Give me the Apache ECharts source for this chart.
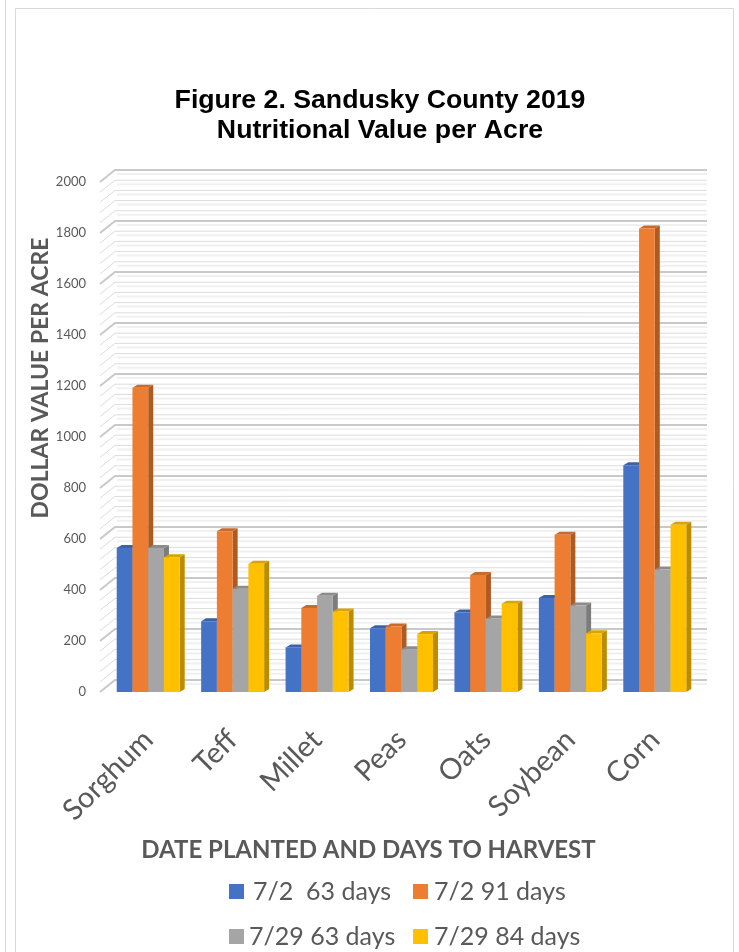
<!DOCTYPE html>
<html>
<head>
<meta charset="utf-8">
<script src="https://cdn.jsdelivr.net/npm/echarts@6/dist/echarts.min.js"></script>
<style>
html,body{margin:0;padding:0;background:#fff;}
#chart{width:739px;height:952px;}
</style>
</head>
<body>
<div id="chart"></div>
<script>
var categories = ['Sorghum', 'Teff', 'Millet', 'Peas', 'Oats', 'Soybean', 'Corn'];
var seriesNames = ['7/2  63 days', '7/2 91 days', '7/29 63 days', '7/29 84 days'];
var s72_63 = [565, 277, 175, 250, 312, 369, 889];
var s72_91 = [1193, 630, 329, 257, 459, 617, 1818];
var s729_63 = [565, 405, 377, 168, 288, 339, 480];
var s729_84 = [528, 503, 316, 227, 346, 230, 656];
var yTicks = [0, 200, 400, 600, 800, 1000, 1200, 1400, 1600, 1800, 2000];

var frontColors = ['#4472C4', '#ED7D31', '#A5A5A5', '#FFC000'];
var sideColors = ['#2F528F', '#AE5A21', '#7C7C7C', '#BC8C00'];
var topColors = ['#3A62A8', '#C9692A', '#8C8C8C', '#D9A300'];
var allSeries = [s72_63, s72_91, s729_63, s729_84];

var chart = echarts.init(document.getElementById('chart'), null, {renderer: 'canvas'});

var DX = 5, DY = 3;
function make3DRender(si) {
  return function (params, api) {
    var cat = api.value(0);
    var val = api.value(1);
    var top = api.coord([cat, val]);
    var base = api.coord([cat, 0]);
    var band = api.size([1, 0])[0];
    var bw = band * 0.746 / 4;
    var x = top[0] - 2 * bw + si * bw;
    var yT = top[1], yB = base[1];
    return {
      type: 'group',
      children: [
        {type: 'polygon', shape: {points: [[x + bw, yT], [x + bw + DX, yT - DY], [x + bw + DX, yB - DY], [x + bw, yB]]},
          style: {fill: sideColors[si]}},
        {type: 'polygon', shape: {points: [[x, yT], [x + DX, yT - DY], [x + bw + DX, yT - DY], [x + bw, yT]]},
          style: {fill: topColors[si]}},
        {type: 'rect', shape: {x: x, y: yT, width: bw, height: yB - yT},
          style: {fill: frontColors[si]}}
      ]
    };
  };
}

// 3D side wall and back wall grid lines
var WX = 15, WY = 12;
function wallRender(params, api) {
  var v = api.value(0);
  var p = api.coord([0, v]);
  var pr = api.coord([categories.length - 1, v]);
  var band = api.size([1, 0])[0];
  var x0 = p[0] - band / 2 - 6;
  var x1 = pr[0] + band / 2 + 10;
  var major = v % 200 === 0;
  var col = major ? '#C9C9C9' : '#DCDCDC';
  var lw = major ? 2 : 1;
  return {
    type: 'group',
    children: [
      {type: 'polyline', shape: {points: [[x0, p[1]], [x0 + WX, p[1] - WY], [x1, p[1] - WY]]},
        style: {stroke: col, lineWidth: lw, fill: null}},
      {type: 'line', shape: {x1: x0 + WX + 2, y1: p[1] - WY + 4, x2: x1, y2: p[1] - WY + 4},
        style: {stroke: '#F0F0F0', lineWidth: 2}}
    ]
  };
}
var wallValues = [];
for (var k = 0; k < yTicks.length - 1; k++) {
  for (var m = 0; m < 5; m++) wallValues.push([yTicks[k] + m * 40]);
}
wallValues.push([yTicks[yTicks.length - 1]]);

var series = [{
  type: 'custom',
  name: 'wall',
  renderItem: wallRender,
  data: wallValues,
  encode: {y: 0},
  silent: true,
  z: 1
}];
allSeries.forEach(function (arr, si) {
  series.push({
    type: 'custom',
    name: seriesNames[si],
    renderItem: make3DRender(si),
    itemStyle: {color: frontColors[si]},
    data: arr.map(function (v, j) { return [j, v]; }),
    encode: {x: 0, y: 1},
    z: 2 + si
  });
});

function legendItem(i, left, top, padLeft) {
  return {
    data: [seriesNames[i]],
    left: left, top: top, itemWidth: 15, itemHeight: 15, icon: 'rect',
    textStyle: {fontFamily: 'Lato', fontSize: 25, color: '#595959', padding: [0, 0, 0, padLeft]}
  };
}

var option = {
  backgroundColor: '#fff',
  animation: false,
  graphic: [
    {type: 'line', shape: {x1: 5.5, y1: 0, x2: 5.5, y2: 952}, style: {stroke: '#D9D9D9', lineWidth: 1}},
    {type: 'rect', shape: {x: 15.5, y: 8.5, width: 718, height: 960}, style: {fill: 'none', stroke: '#D9D9D9', lineWidth: 1}}
  ],
  title: {
    text: 'Figure 2. Sandusky County 2019\nNutritional Value per Acre',
    left: 380, top: 86, textAlign: 'center', padding: 0,
    textStyle: {fontFamily: 'Liberation Sans', fontWeight: 'bold', fontSize: 26.7, color: '#000', lineHeight: 30}
  },
  legend: [
    legendItem(0, 224, 874, 4),
    legendItem(1, 408, 874, 1),
    legendItem(2, 224, 919, 0),
    legendItem(3, 408, 919, 1)
  ],
  grid: {left: 106, right: 42, top: 182, bottom: 260, containLabel: false},
  xAxis: {
    type: 'category',
    data: categories,
    axisTick: {show: false},
    axisLine: {show: false},
    axisLabel: {rotate: 45, margin: 43, fontFamily: 'Lato', fontSize: 29, color: '#595959', interval: 0},
    name: 'DATE PLANTED AND DAYS TO HARVEST',
    nameLocation: 'middle', nameGap: 146, nameMoveOverlap: false,
    nameTextStyle: {fontFamily: 'Lato', fontWeight: 'bold', fontSize: 24, color: '#595959', padding: [0, 66, 0, 0]}
  },
  yAxis: {
    type: 'value', min: 0, max: 2000, interval: 200,
    axisLine: {show: false}, axisTick: {show: false},
    axisLabel: {margin: 20, fontFamily: 'Lato', fontSize: 13, color: '#595959',
      formatter: function (v) { return String(v); }},
    splitLine: {show: false},
    name: 'DOLLAR VALUE PER ACRE',
    nameLocation: 'middle', nameGap: 54, nameRotate: 90, nameMoveOverlap: false,
    nameTextStyle: {fontFamily: 'Lato', fontWeight: 'bold', fontSize: 23, color: '#595959', padding: [0, 0, 0, 118]}
  },
  series: series
};
chart.setOption(option);
</script>
</body>
</html>
